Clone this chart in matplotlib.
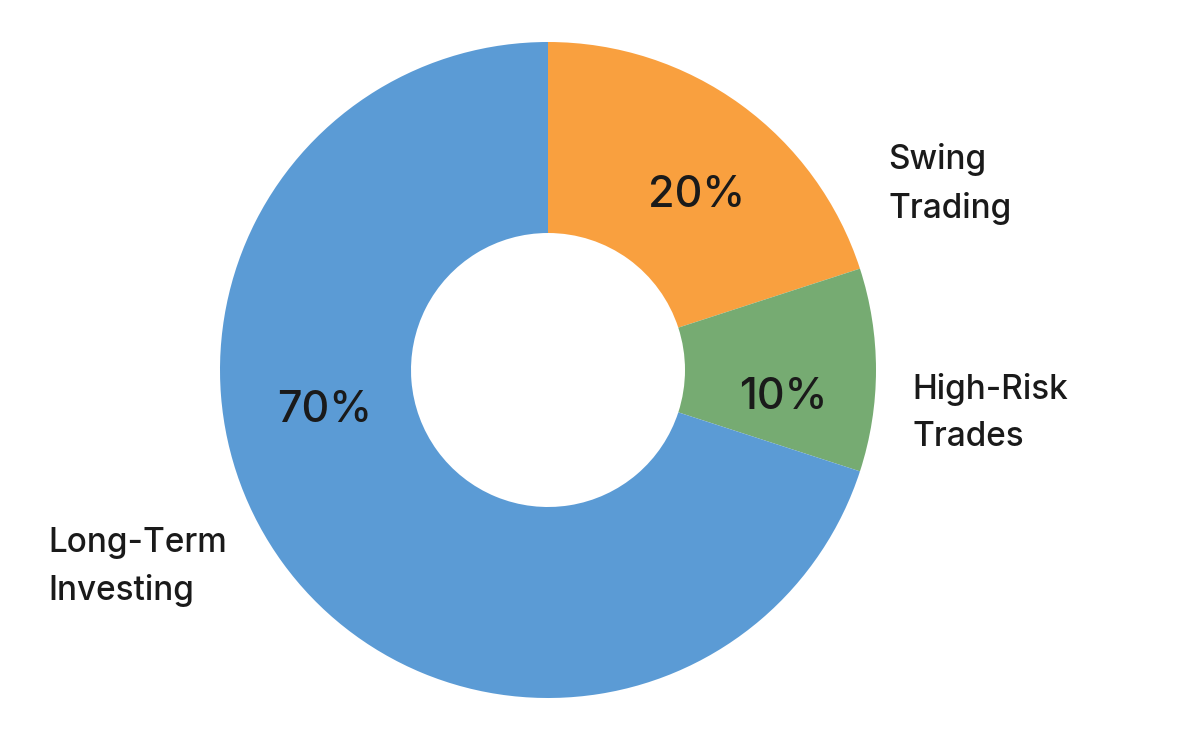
import matplotlib.pyplot as plt

labels = ['Swing\nTrading', 'High-Risk\nTrades', 'Long-Term\nInvesting']
values = [20, 10, 70]
pct_text = ['20%', '10%', '70%']
colors = ['#F9A03F', '#76AB72', '#5B9BD5']

fig = plt.figure(figsize=(12, 7.35), dpi=100)
ax = fig.add_axes([0, 0, 1, 1])

ax.pie(values, colors=colors, startangle=90, counterclock=False,
       center=(548, 365), radius=328, frame=True,
       wedgeprops=dict(width=191, linewidth=0))
ax.set_xlim(0, 1200)
ax.set_ylim(0, 735)
ax.set_aspect('equal')
ax.axis('off')

pct_pos = [(697, 540), (783, 338), (325, 325)]
for t, (x, y) in zip(pct_text, pct_pos):
    ax.text(x, y, t, fontsize=31, fontweight='medium', color='#1a1a1a',
            ha='center', va='center', family='Inter')

lab_pos = [(888, 551), (912, 322), (48, 168)]
for t, (x, y) in zip(labels, lab_pos):
    ax.text(x, y, t, fontsize=24, fontweight='medium', color='#1a1a1a',
            ha='left', va='center', family='Inter', linespacing=1.6)

fig.savefig('out.png', dpi=100)
